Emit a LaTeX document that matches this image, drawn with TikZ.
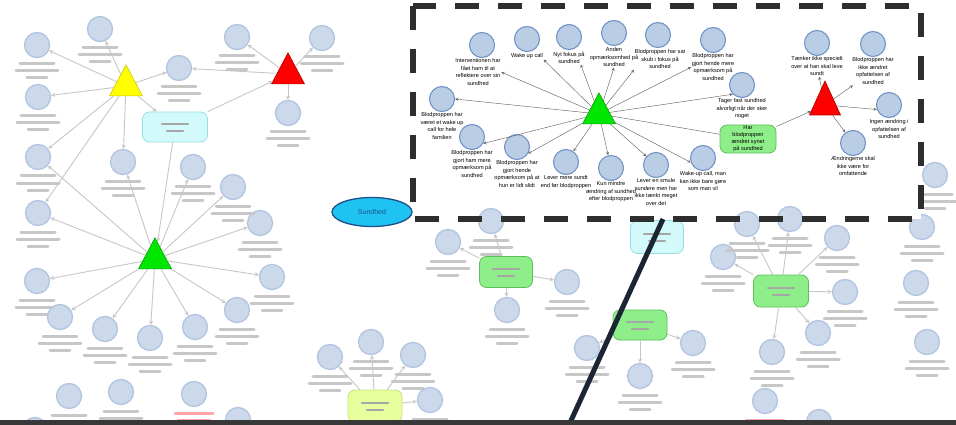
\documentclass[tikz,border=0pt]{standalone}
\usepackage{fontspec}
\setmainfont{Liberation Sans}
\usetikzlibrary{shapes.geometric}
\definecolor{cfill}{HTML}{B9CDE5}
\definecolor{cbord}{HTML}{7393C6}
\definecolor{gtri}{HTML}{00E600}
\definecolor{gtrid}{HTML}{00A000}
\definecolor{rtri}{HTML}{FF0000}
\definecolor{rtrid}{HTML}{B00000}
\definecolor{ytri}{HTML}{FFFF00}
\definecolor{ytrid}{HTML}{C8C800}
\definecolor{qgreen}{HTML}{8EEE8A}
\definecolor{qgreend}{HTML}{5CBF5C}
\definecolor{qcyan}{HTML}{D2FAFA}
\definecolor{qcyand}{HTML}{9ADCE4}
\definecolor{qlime}{HTML}{E8FF9E}
\definecolor{qlimed}{HTML}{C8E07C}
\definecolor{sky}{HTML}{1EC3F2}
\definecolor{skyd}{HTML}{1F4E8C}
\definecolor{band}{HTML}{383838}
\definecolor{dline}{HTML}{1B2533}
\begin{document}
\begin{tikzpicture}[x=1pt,y=-1pt,
 circ/.style={circle,draw=cbord,fill=cfill,line width=1.1pt,minimum size=25pt,inner sep=0pt},
 bgc/.style={circle,draw=cbord!55,fill=cfill!75,line width=1.3pt,minimum size=25pt,inner sep=0pt},
 lbl/.style={align=center,anchor=north,inner sep=.5pt,font=\fontsize{5.6}{7.6}\selectfont},
 tri/.style={isosceles triangle,isosceles triangle stretches,shape border rotate=90,
  minimum width=33pt,minimum height=31pt,inner sep=0pt,line width=.6pt},
 qbox/.style={rounded corners=7pt,line width=.8pt,align=center,inner sep=1pt,
  font=\fontsize{5.6}{7}\selectfont},
 bgtxt/.style={line width=3pt,line cap=round,draw=black!22},
 smear/.pic={\draw[bgtxt] (-17,0)--(17,0) (-21,7)--(21,7) (-10,14)--(10,14);},
 redsmear/.pic={\draw[bgtxt,draw=red!35] (-19,0)--(19,0) (-16,7)--(16,7);},
 boxsmear/.pic={\draw[bgtxt,draw=black!35,line width=2.5pt] (-13,-3)--(13,-3) (-8,4)--(8,4);},
 arr/.style={-stealth,draw=black!60,line width=.45pt},
 bgarr/.style={-stealth,draw=black!22,line width=.9pt}]
 \useasboundingbox (0,0) rectangle (956,425);
 \fill[white] (0,0) rectangle (956,425);
 % <<< nền mờ
 \foreach \n/\x/\y in {a1/37/45,a2/100/29,a3/38/97,a4/38/157,a5/179/68,a6/123/162,
  a7/237/37,a8/322/38,a9/288/113,g1/38/213,g2/37/281,g3/60/317,g4/105/329,
  g5/150/338,g6/195/327,g7/237/310,g8/272/277,g9/260/223,g10/233/187,g11/193/167,
  d1/69/396,d2/121/392,d4/238/420,d5/35/430,m2/448/242,m3/567/282,m4/507/310,
  n1/330/357,n2/371/342,n3/413/355,n4/430/400,o1/587/348,o2/693/343,o3/640/376,
  e3/723/257,e4/837/238,e5/845/292,e6/818/333,e7/772/352,e9/819/422,
  r1/922/227,r2/916/283,r3/927/342,r4/935/175}
  {\node[bgc] (\n) at (\x,\y) {};
   \pic at (\x,\y+19) {smear};}
 \foreach \n/\x/\y in {d3/194/394,e8/765/401}
  {\node[bgc] (\n) at (\x,\y) {};
   \pic at (\x,\y+19) {redsmear};}
 \path
 (126,86) node[tri,fill=ytri,draw=ytrid] (yt) {}
 (288,74) node[tri,fill=rtri,draw=rtrid] (rt0) {}
 (155,259) node[tri,fill=gtri,draw=gtrid] (gt0) {}
 (175,127) node[qbox,draw=qcyand,fill=qcyan,minimum width=65pt,minimum height=30pt] (sk) {}
 (506,272) node[qbox,draw=qgreend,fill=qgreen,minimum width=53pt,minimum height=31pt] (hb) {}
 (375,406) node[qbox,draw=qlimed,fill=qlime,minimum width=54pt,minimum height=32pt] (mo) {}
 (657,237) node[qbox,draw=qcyand,fill=qcyan,minimum width=53pt,minimum height=33pt] (hc) {}
 (640,325) node[qbox,draw=qgreend,fill=qgreen,minimum width=54pt,minimum height=30pt] (gb) {}
 (781,291) node[qbox,draw=qgreend,fill=qgreen,minimum width=55pt,minimum height=32pt] (eb) {};
 \foreach \p in {(175,127),(506,272),(375,406),(657,237),(640,325),(781,291)}
  \pic at \p {boxsmear};
 \node[ellipse,draw=skyd,fill=sky,line width=1.3pt,minimum width=80pt,minimum height=29pt,
  text=skyd,font=\fontsize{7}{8}\selectfont] (su) at (372,212) {Sundhed};
 % <<< khung phóng to
 \fill[white] (413,6) rectangle (921,219);
 \foreach \n/\x/\y in {m1/491/221,e1/747/224,e2/790/219}
  {\node[bgc] (\n) at (\x,\y) {};
   \pic at (\x,\y+19) {smear};}
 \begin{scope}[bgarr]
 \foreach \t in {a1,a2,a3,a4,a5,a6,g1} \draw (yt) -- (\t);
 \foreach \t in {a5,a7,a8,a9} \draw (rt0) -- (\t);
 \foreach \t in {g1,g2,g3,g4,g5,g6,g7,g8,g9,g10,g11,a4,a6} \draw (gt0) -- (\t);
 \foreach \t in {m1,m2,m3,m4} \draw (hb) -- (\t);
 \foreach \t in {n1,n2,n3,n4} \draw (mo) -- (\t);
 \foreach \t in {o1,o2,o3} \draw (gb) -- (\t);
 \foreach \t in {e1,e2,e3,e4,e5,e6,e7} \draw (eb) -- (\t);
 \draw (yt) -- (sk); \draw (sk) -- (rt0); \draw (sk) -- (gt0);
 \end{scope}
 \path
 (482,45) node[circ] (c1) {}
 (478,58) node[lbl] (l1) {Interventionen har\\fået ham til at\\reflektere over sin\\sundhed}
 (527,39) node[circ] (c2) {}
 (527,53) node[lbl] (l2) {Wake up call}
 (569,37) node[circ] (c3) {}
 (569,51) node[lbl] (l3) {Nyt fokus på\\sundhed}
 (614,33) node[circ] (c4) {}
 (614,47) node[lbl] (l4) {Anden\\opmærksomhed på\\sundhed}
 (658,35) node[circ] (c5) {}
 (660,49) node[lbl] (l5) {Blodproppen har sat\\skub i fokus på\\sundhed}
 (713,40) node[circ] (c6) {}
 (713,53) node[lbl] (l6) {Blodproppen har\\gjort hende mere\\opmærksom på\\sundhed}
 (742,85) node[circ] (c7) {}
 (742,98) node[lbl] (l7) {Tager fast sundhed\\alvorligt når der sker\\noget}
 (442,99) node[circ] (c8) {}
 (442,112) node[lbl] (l8) {Blodproppen har\\været et wake up\\call for hele\\familien}
 (472,137) node[circ] (c9) {}
 (472,150) node[lbl] (l9) {Blodproppen har\\gjort ham mere\\opmærksom på\\sundhed}
 (517,147) node[circ] (c10) {}
 (517,160) node[lbl] (l10) {Blodproppen har\\gjort hende\\opmærksom på at\\hun er lidt slidt}
 (566,162) node[circ] (c11) {}
 (566,175) node[lbl] (l11) {Lever mere sundt\\end før blodproppen}
 (611,168) node[circ] (c12) {}
 (611,181) node[lbl] (l12) {Kun mindre\\ændring af sundhed\\efter blodproppen}
 (656,165) node[circ] (c13) {}
 (656,178) node[lbl] (l13) {Lever en smule\\sundere men har\\ikke tænkt meget\\over det}
 (703,158) node[circ] (c14) {}
 (703,171) node[lbl] (l14) {Wake-up call, man\\kan ikke bare gøre\\som man vil}
 (817,43) node[circ] (q1) {}
 (817,56) node[lbl] (k1) {Tænker ikke specielt\\over at han skal leve\\sundt}
 (873,44) node[circ] (q2) {}
 (873,57) node[lbl] (k2) {Blodproppen har\\ikke ændret\\opfattelsen af\\sundhed}
 (889,105) node[circ] (q3) {}
 (889,119) node[lbl] (k3) {Ingen ændring i\\opfattelsen af\\sundhed}
 (853,143) node[circ] (q4) {}
 (853,156) node[lbl] (k4) {Ændringerne skal\\ikke være for\\omfattende};
 \path
 (599,114) node[tri,fill=gtri,draw=gtrid] (gt) {}
 (825,105) node[tri,fill=rtri,draw=rtrid,minimum width=31pt,minimum height=34pt] (rt) {}
 (748,139) node[qbox,draw=qgreend,fill=qgreen,minimum width=56pt,minimum height=28pt] (hs)
  {Har\\blodproppen\\ændret synet\\på sundhed};
 \draw[black!60,line width=.45pt] (gt) -- (hs);
 \begin{scope}[arr]
 \draw (gt) -- (l1.east);
 \draw (gt) -- (l2.south east);
 \draw (gt) -- (l3.-30);
 \draw (gt) -- (l4.south);
 \draw (gt) -- (l5.south west);
 \draw (gt) -- (l6.west);
 \draw (gt) -- (c7.south west);
 \draw (gt) -- (c8.east);
 \draw (gt) -- (c9.-30);
 \draw (gt) -- (c10.-30);
 \draw (gt) -- (c11);
 \draw (gt) -- (c12);
 \draw (gt) -- (c13);
 \draw (gt) -- (c14.200);
 \draw (hs) -- (rt);
 \draw (rt) -- (k1);
 \draw (rt) -- (k2);
 \draw (rt) -- (q3.200);
 \draw (rt) -- (q4);
 \end{scope}
 \draw[black!82,line width=6pt,dash pattern=on 24pt off 19pt] (413,6) rectangle (921,219);
 \coordinate (z1) at (663,219);
 \coordinate (z2) at (569,425);
 \draw[dline,line width=5pt] (z1) -- (z2);
 \fill[band] (0,420) rectangle (956,425);
\end{tikzpicture}
\end{document}
